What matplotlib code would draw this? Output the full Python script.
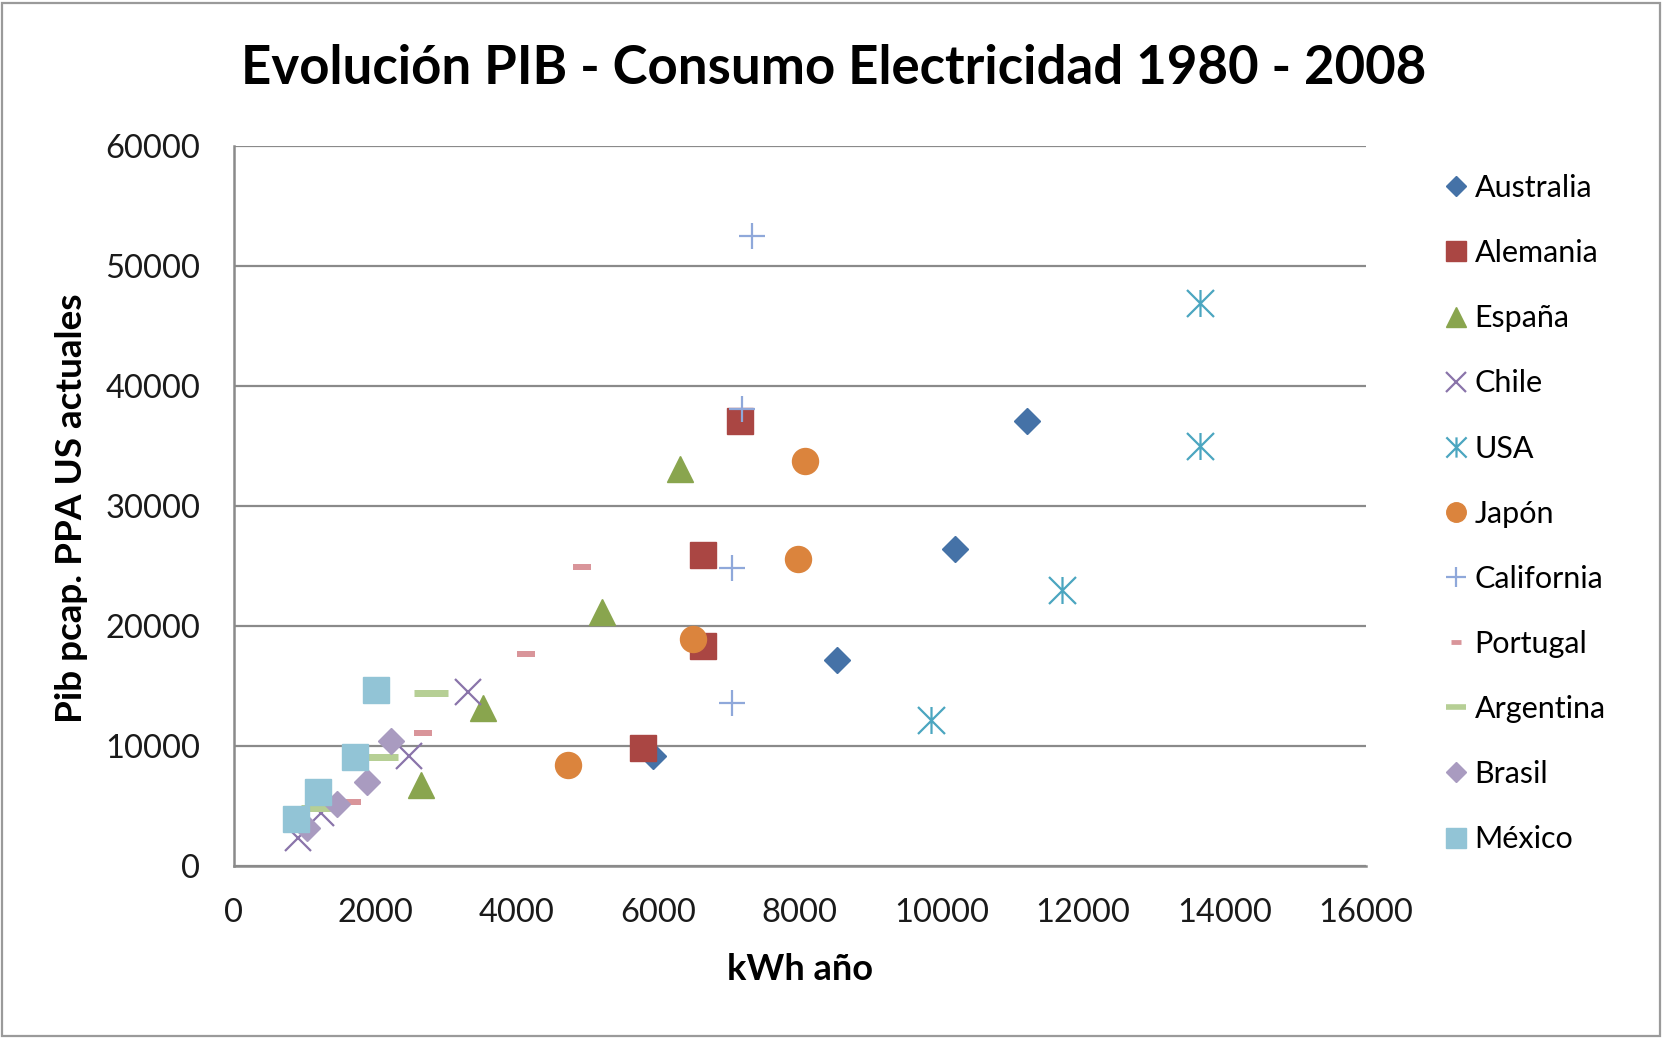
import matplotlib
matplotlib.use("Agg")
import matplotlib.pyplot as plt
from matplotlib.path import Path
from matplotlib.lines import Line2D
from matplotlib.patches import Rectangle

plt.rcParams['font.family'] = ['Lato', 'DejaVu Sans']

# ---- data (kWh/year, GDP per capita PPP current US$) ----
australia_x = [5920, 8530, 10190, 11210]
australia_y = [9150, 17200, 26400, 37100]
alemania_x = [5780, 6640, 6640, 7160]
alemania_y = [9860, 18300, 25900, 37100]
espana_x = [2650, 3530, 5200, 6310]
espana_y = [6750, 13200, 21200, 33100]
chile_x = [910, 1240, 2480, 3310]
chile_y = [2300, 4440, 9190, 14500]
usa_x = [9860, 11710, 13650, 13650]
usa_y = [12160, 23000, 35000, 46900]
japon_x = [4720, 6490, 7980, 8070]
japon_y = [8430, 18900, 25600, 33750]
california_x = [7040, 7040, 7180, 7330]
california_y = [13600, 24800, 38100, 52500]
portugal_x = [1680, 2680, 4130, 4930]
portugal_y = [5360, 11100, 17700, 24950]
argentina_x = [1200, 2090, 2790]
argentina_y = [4800, 9100, 14400]
brasil_x = [1035, 1460, 1890, 2230]
brasil_y = [3140, 5170, 6980, 10440]
mexico_x = [880, 1200, 1720, 2020]
mexico_y = [3890, 6190, 9060, 14700]

series_names = ["Australia", "Alemania", "España", "Chile", "USA", "Japón",
                "California", "Portugal", "Argentina", "Brasil", "México"]

x_ticks = [0, 2000, 4000, 6000, 8000, 10000, 12000, 14000, 16000]
y_ticks = [0, 10000, 20000, 30000, 40000, 50000, 60000]

title = "Evolución PIB - Consumo Electricidad 1980 - 2008"
xlabel = "kWh año"
ylabel = "Pib pcap. PPA US actuales"

# ---- styles ----
star = Path([(-1, -1), (1, 1), (-1, 1), (1, -1), (0, -1), (0, 1)],
            [Path.MOVETO, Path.LINETO, Path.MOVETO, Path.LINETO, Path.MOVETO, Path.LINETO])

px = 72.0 / 100.0  # points per pixel at dpi 100
styles = [
    dict(marker='D', color='#4572A7', ms=19 * px, mew=1),
    dict(marker='s', color='#AA4643', ms=26 * px, mew=1),
    dict(marker='^', color='#89A54E', ms=27 * px, mew=1),
    dict(marker='x', color='#8A74AA', ms=27 * px, mew=1.6),
    dict(marker=star, color='#4BA6C0', ms=27 * px, mew=1.6),
    dict(marker='o', color='#DB843D', ms=26 * px, mew=1),
    dict(marker='+', color='#8FA8DA', ms=27 * px, mew=1.6),
    dict(marker='_', color='#D9959A', ms=18 * px, mew=6 * px),
    dict(marker='_', color='#B6CF95', ms=34 * px, mew=7 * px),
    dict(marker='D', color='#A99BC0', ms=19 * px, mew=1),
    dict(marker='s', color='#92C4D6', ms=26 * px, mew=1),
]
data = [(australia_x, australia_y), (alemania_x, alemania_y), (espana_x, espana_y),
        (chile_x, chile_y), (usa_x, usa_y), (japon_x, japon_y),
        (california_x, california_y), (portugal_x, portugal_y),
        (argentina_x, argentina_y), (brasil_x, brasil_y), (mexico_x, mexico_y)]

W, H = 1663, 1038
fig = plt.figure(figsize=(W / 100, H / 100), dpi=100)
fig.patch.set_facecolor('white')
fig.patches.append(Rectangle((0.001, 0.002), 0.997, 0.995, transform=fig.transFigure,
                             fill=False, edgecolor='#9A9A9A', linewidth=1.6))

left, right, top, bottom = 233.5, 1366, 146, 866
ax = fig.add_axes([left / W, 1 - bottom / H, (right - left) / W, (bottom - top) / H])

handles = []
for (xs, ys), st, name in zip(data, styles, series_names):
    ax.plot(xs, ys, linestyle='none', marker=st['marker'], markersize=st['ms'],
            color=st['color'], markeredgecolor=st['color'], markeredgewidth=st['mew'],
            label=name, zorder=3)
    scale = 0.75
    mew = st['mew'] if st['marker'] != '_' else st['mew'] * 0.8
    ms = st['ms'] * scale
    if name == "Portugal":
        ms = 10 * px
    if name == "Argentina":
        ms = 20 * px
    handles.append(Line2D([], [], linestyle='none', marker=st['marker'], markersize=ms,
                          color=st['color'], markeredgecolor=st['color'],
                          markeredgewidth=mew, label=name))

ax.set_xlim(0, 16000)
ax.set_ylim(0, 60000)
ax.set_xticks(x_ticks)
ax.set_yticks(y_ticks)
ax.set_xticklabels([str(v) for v in x_ticks])
ax.set_yticklabels([str(v) for v in y_ticks])
ax.tick_params(axis='both', length=0, labelsize=23.5, colors='#1a1a1a')
ax.tick_params(axis='y', pad=33 * px)
ax.tick_params(axis='x', pad=32 * px)
ax.grid(axis='y', color='#8A8A8A', linewidth=1.6)
ax.set_axisbelow(True)
for s in ['top', 'right']:
    ax.spines[s].set_visible(False)
for s in ['left', 'bottom']:
    ax.spines[s].set_color('#8A8A8A')
    ax.spines[s].set_linewidth(1.8)

fig.text(833.5 / W, 1 - 69 / H, title, ha='center', va='center',
         fontsize=38, fontweight='bold', color='black')
fig.text(800 / W, 1 - 970 / H, xlabel, ha='center', va='center',
         fontsize=26, fontweight='bold', color='black')
fig.text(72 / W, 1 - 508 / H, ylabel, ha='center', va='center', rotation=90,
         fontsize=26.6, fontweight='bold', color='black')

leg = fig.legend(handles=handles, loc='upper left',
                 bbox_to_anchor=(1445 / W, 1 - 174 / H), frameon=False,
                 fontsize=22, handlelength=0.75, handletextpad=0.22,
                 labelspacing=1.215, borderpad=0, borderaxespad=0)

fig.savefig('out.png', dpi=100, facecolor='white')
